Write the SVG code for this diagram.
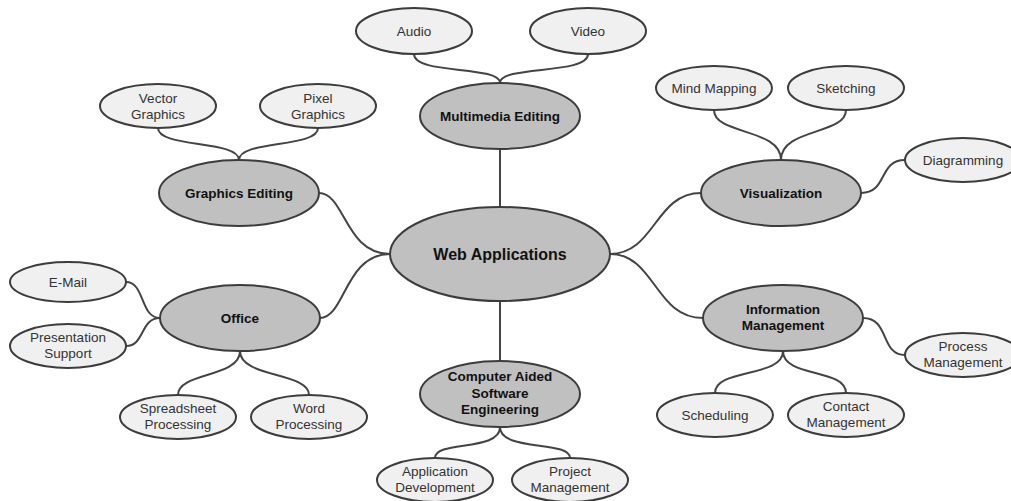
<svg xmlns="http://www.w3.org/2000/svg" width="1011" height="501" viewBox="0 0 1011 501">
  <style>
    .link { fill: none; stroke: #444; stroke-width: 2; }
    .hub { fill: #c0c0c0; stroke: #3c3c3c; stroke-width: 2; }
    .cat { fill: #c0c0c0; stroke: #3c3c3c; stroke-width: 2; }
    .leaf { fill: #f0f0f0; stroke: #3c3c3c; stroke-width: 2; }
    text { font-family: "Liberation Sans", Arial, sans-serif; text-anchor: middle; fill: #111; }
    .hub-t { font-size: 16px; font-weight: bold; }
    .cat-t { font-size: 13.5px; font-weight: bold; }
    .leaf-t { font-size: 13.5px; fill: #333; }
  </style>

  <!-- connectors -->
  <g id="connectors">
    <path class="link" d="M500,207 L500,149"/>
    <path class="link" d="M500,301 L500,361"/>
    <path class="link" d="M390,254 C345,254 345,193 319,193"/>
    <path class="link" d="M390,254 C345,254 345,318 320,318"/>
    <path class="link" d="M610,254 C655,254 655,193 701,193"/>
    <path class="link" d="M610,254 C655,254 655,318 703,318"/>

    <path class="link" d="M414,54 C414,75 500,65 500,83"/>
    <path class="link" d="M588,54 C588,75 500,65 500,83"/>

    <path class="link" d="M158,128 C158,148 239,140 239,160"/>
    <path class="link" d="M318,128 C318,148 239,140 239,160"/>

    <path class="link" d="M714,110 C714,135 781,128 781,160"/>
    <path class="link" d="M846,110 C846,135 781,128 781,160"/>
    <path class="link" d="M861,193 C888,193 878,160 905,160"/>

    <path class="link" d="M783,351 C783,378 715,368 715,393"/>
    <path class="link" d="M783,351 C783,378 846,368 846,393"/>
    <path class="link" d="M863,318 C890,318 880,355 905,355"/>

    <path class="link" d="M500,427 C500,452 435,440 435,458"/>
    <path class="link" d="M500,427 C500,452 570,440 570,458"/>

    <path class="link" d="M240,351 C240,378 178,372 178,395"/>
    <path class="link" d="M240,351 C240,378 309,372 309,395"/>
    <path class="link" d="M126,282 C145,282 140,318 160,318"/>
    <path class="link" d="M126,346 C145,346 140,318 160,318"/>
  </g>

  <!-- central node -->
  <g id="web-applications">
    <ellipse class="hub" cx="500" cy="254" rx="110" ry="47"/>
    <text class="hub-t" x="500" y="260">Web Applications</text>
  </g>

  <!-- Multimedia Editing branch -->
  <g id="multimedia-editing">
    <ellipse class="cat" cx="500" cy="116" rx="80" ry="33"/>
    <text class="cat-t" x="500" y="121">Multimedia Editing</text>
  </g>
  <g id="audio">
    <ellipse class="leaf" cx="414" cy="31" rx="58" ry="23"/>
    <text class="leaf-t" x="414" y="36">Audio</text>
  </g>
  <g id="video">
    <ellipse class="leaf" cx="588" cy="31" rx="58" ry="23"/>
    <text class="leaf-t" x="588" y="36">Video</text>
  </g>

  <!-- Graphics Editing branch -->
  <g id="graphics-editing">
    <ellipse class="cat" cx="239" cy="193" rx="80" ry="33"/>
    <text class="cat-t" x="239" y="198">Graphics Editing</text>
  </g>
  <g id="vector-graphics">
    <ellipse class="leaf" cx="158" cy="106" rx="58" ry="22"/>
    <text class="leaf-t" x="158" y="103">Vector</text>
    <text class="leaf-t" x="158" y="119">Graphics</text>
  </g>
  <g id="pixel-graphics">
    <ellipse class="leaf" cx="318" cy="106" rx="58" ry="22"/>
    <text class="leaf-t" x="318" y="103">Pixel</text>
    <text class="leaf-t" x="318" y="119">Graphics</text>
  </g>

  <!-- Visualization branch -->
  <g id="visualization">
    <ellipse class="cat" cx="781" cy="193" rx="80" ry="33"/>
    <text class="cat-t" x="781" y="198">Visualization</text>
  </g>
  <g id="mind-mapping">
    <ellipse class="leaf" cx="714" cy="88" rx="58" ry="22"/>
    <text class="leaf-t" x="714" y="93">Mind Mapping</text>
  </g>
  <g id="sketching">
    <ellipse class="leaf" cx="846" cy="88" rx="58" ry="22"/>
    <text class="leaf-t" x="846" y="93">Sketching</text>
  </g>
  <g id="diagramming">
    <ellipse class="leaf" cx="963" cy="160" rx="58" ry="22"/>
    <text class="leaf-t" x="963" y="165">Diagramming</text>
  </g>

  <!-- Information Management branch -->
  <g id="information-management">
    <ellipse class="cat" cx="783" cy="318" rx="80" ry="33"/>
    <text class="cat-t" x="783" y="314">Information</text>
    <text class="cat-t" x="783" y="330">Management</text>
  </g>
  <g id="process-management">
    <ellipse class="leaf" cx="963" cy="355" rx="58" ry="22"/>
    <text class="leaf-t" x="963" y="351">Process</text>
    <text class="leaf-t" x="963" y="367">Management</text>
  </g>
  <g id="scheduling">
    <ellipse class="leaf" cx="715" cy="415" rx="58" ry="22"/>
    <text class="leaf-t" x="715" y="420">Scheduling</text>
  </g>
  <g id="contact-management">
    <ellipse class="leaf" cx="846" cy="415" rx="58" ry="22"/>
    <text class="leaf-t" x="846" y="411">Contact</text>
    <text class="leaf-t" x="846" y="427">Management</text>
  </g>

  <!-- Computer Aided Software Engineering branch -->
  <g id="case">
    <ellipse class="cat" cx="500" cy="394" rx="80" ry="33"/>
    <text class="cat-t" x="500" y="381">Computer Aided</text>
    <text class="cat-t" x="500" y="398">Software</text>
    <text class="cat-t" x="500" y="414">Engineering</text>
  </g>
  <g id="application-development">
    <ellipse class="leaf" cx="435" cy="480" rx="58" ry="22"/>
    <text class="leaf-t" x="435" y="476">Application</text>
    <text class="leaf-t" x="435" y="492">Development</text>
  </g>
  <g id="project-management">
    <ellipse class="leaf" cx="570" cy="480" rx="58" ry="22"/>
    <text class="leaf-t" x="570" y="476">Project</text>
    <text class="leaf-t" x="570" y="492">Management</text>
  </g>

  <!-- Office branch -->
  <g id="office">
    <ellipse class="cat" cx="240" cy="318" rx="80" ry="33"/>
    <text class="cat-t" x="240" y="323">Office</text>
  </g>
  <g id="e-mail">
    <ellipse class="leaf" cx="68" cy="282" rx="58" ry="20"/>
    <text class="leaf-t" x="68" y="287">E-Mail</text>
  </g>
  <g id="presentation-support">
    <ellipse class="leaf" cx="68" cy="346" rx="58" ry="22"/>
    <text class="leaf-t" x="68" y="342">Presentation</text>
    <text class="leaf-t" x="68" y="358">Support</text>
  </g>
  <g id="spreadsheet-processing">
    <ellipse class="leaf" cx="178" cy="417" rx="58" ry="22"/>
    <text class="leaf-t" x="178" y="413">Spreadsheet</text>
    <text class="leaf-t" x="178" y="429">Processing</text>
  </g>
  <g id="word-processing">
    <ellipse class="leaf" cx="309" cy="417" rx="58" ry="22"/>
    <text class="leaf-t" x="309" y="413">Word</text>
    <text class="leaf-t" x="309" y="429">Processing</text>
  </g>
</svg>
